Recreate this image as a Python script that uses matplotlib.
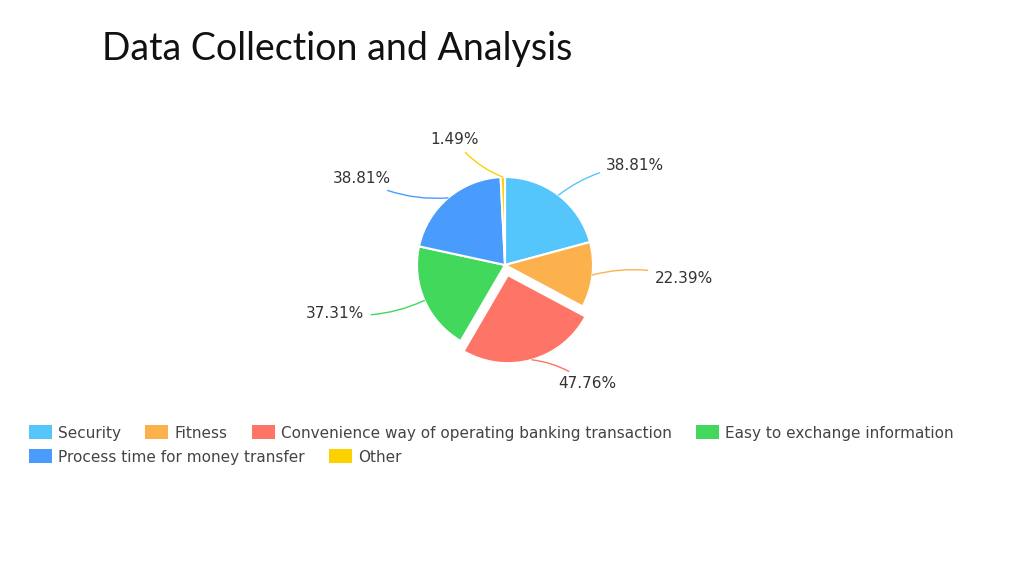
import numpy as np
import matplotlib.pyplot as plt
from matplotlib.patches import Patch

labels = ["Security", "Fitness", "Convenience way of operating banking transaction",
          "Easy to exchange information", "Process time for money transfer", "Other"]
values = [38.81, 22.39, 47.76, 37.31, 38.81, 1.49]
colors = ["#55c6fb", "#fdb14d", "#fe7567", "#41d85b", "#4a9cfc", "#fdd100"]
explode = [0, 0, 0.12, 0, 0, 0]

fig = plt.figure(figsize=(10.24, 5.76), dpi=100)
fig.text(0.1, 0.915, "Data Collection and Analysis", fontsize=27, family="Lato",
         va="center", color="#111111")

cx, cy, span = 505 / 1024, 1 - 265 / 576, 420
ax = fig.add_axes([cx - span / 2048, cy - span / 1152, span / 1024, span / 576])

wedges, _ = ax.pie(values, colors=colors, startangle=90, counterclock=False,
                   explode=explode, radius=1,
                   wedgeprops=dict(edgecolor="white", linewidth=1.5))
lim = span / 2 / 88
ax.set_xlim(-lim, lim)
ax.set_ylim(-lim, lim)
ax.set_aspect("equal")
ax.axis("off")

# label text positions (data units)
text_pos = [(1.15, 1.13), (1.7, -0.15), (0.6, -1.35), (-1.6, -0.55), (-1.3, 0.98), (-0.3, 1.43)]
for w, v, c, (tx, ty), ex in zip(wedges, values, colors, text_pos, explode):
    ang = np.deg2rad((w.theta1 + w.theta2) / 2)
    r = 1 + ex
    x0, y0 = r * np.cos(ang), r * np.sin(ang)
    ha = "left" if tx > 0 else "right"
    ax.annotate(f"{v:.2f}%", xy=(x0, y0), xytext=(tx, ty), ha=ha, va="center",
                fontsize=11, color="#333333",
                arrowprops=dict(arrowstyle="-", color=c, lw=1,
                                connectionstyle="arc3,rad=0.15",
                                shrinkA=3, shrinkB=0))

handles = [Patch(facecolor=c, edgecolor="none") for c in colors]
kw = dict(frameon=False, fontsize=11, labelcolor="#444444", handlelength=1.5,
          handleheight=1.0, handletextpad=0.4, columnspacing=1.6, borderaxespad=0)
fig.legend(handles[:4], labels[:4], ncol=4, loc="center left",
           bbox_to_anchor=(0.022, 1 - 433 / 576), **kw)
fig.legend(handles[4:], labels[4:], ncol=2, loc="center left",
           bbox_to_anchor=(0.022, 1 - 457 / 576), **kw)

fig.savefig("out.png", dpi=100)
